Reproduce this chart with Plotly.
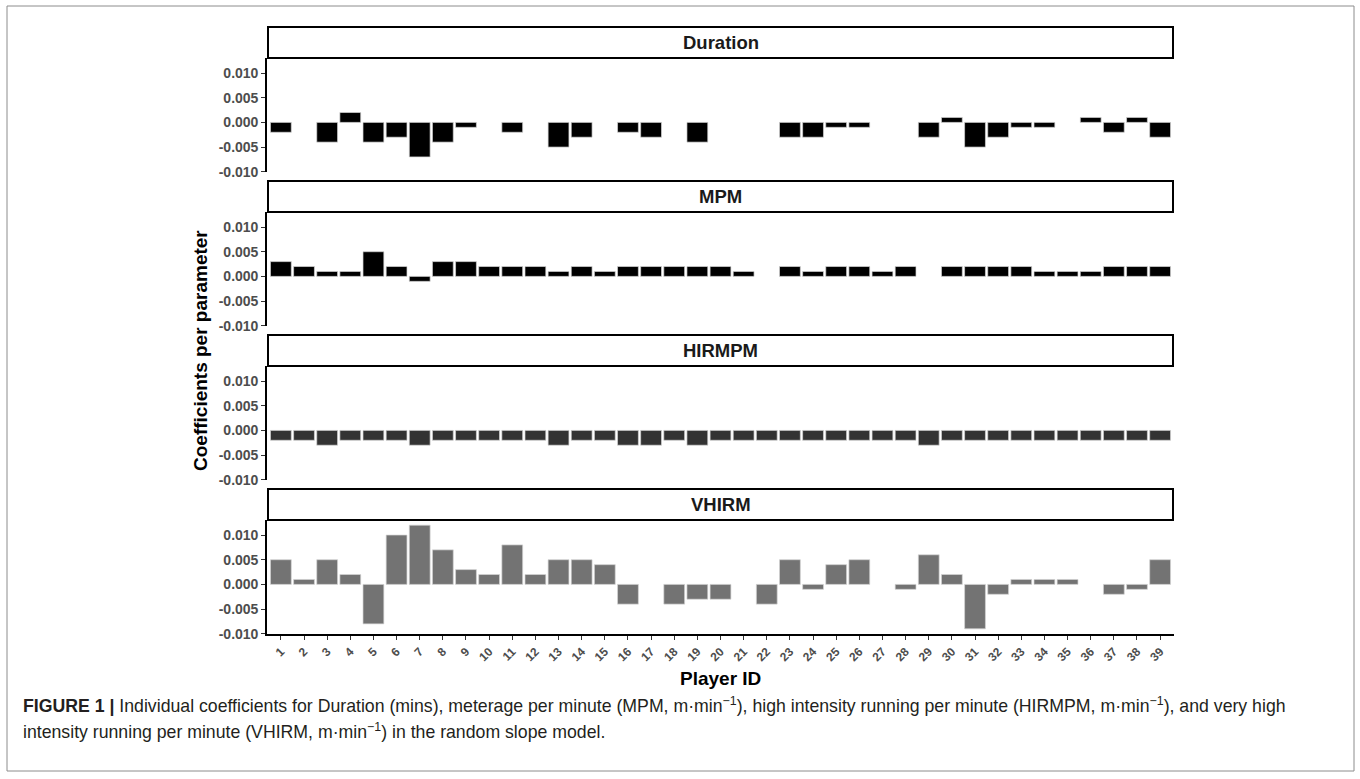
import plotly.graph_objects as go

# ---------------- data ----------------
player_ids = list(range(1, 40))
tick_labels = [str(i) for i in player_ids]
panel_names = ["Duration", "MPM", "HIRMPM", "VHIRM"]

duration = [-0.002, None, -0.004, 0.002, -0.004, -0.003, -0.007, -0.004, -0.001, None,
            -0.002, None, -0.005, -0.003, None, -0.002, -0.003, None, -0.004, None,
            None, None, -0.003, -0.003, -0.001, -0.001, None, None, -0.003, 0.001,
            -0.005, -0.003, -0.001, -0.001, None, 0.001, -0.002, 0.001, -0.003]

mpm = [0.003, 0.002, 0.001, 0.001, 0.005, 0.002, -0.001, 0.003, 0.003, 0.002,
       0.002, 0.002, 0.001, 0.002, 0.001, 0.002, 0.002, 0.002, 0.002, 0.002,
       0.001, None, 0.002, 0.001, 0.002, 0.002, 0.001, 0.002, None, 0.002,
       0.002, 0.002, 0.002, 0.001, 0.001, 0.001, 0.002, 0.002, 0.002]

hirmpm = [-0.002, -0.002, -0.003, -0.002, -0.002, -0.002, -0.003, -0.002, -0.002, -0.002,
          -0.002, -0.002, -0.003, -0.002, -0.002, -0.003, -0.003, -0.002, -0.003, -0.002,
          -0.002, -0.002, -0.002, -0.002, -0.002, -0.002, -0.002, -0.002, -0.003, -0.002,
          -0.002, -0.002, -0.002, -0.002, -0.002, -0.002, -0.002, -0.002, -0.002]

vhirm = [0.005, 0.001, 0.005, 0.002, -0.008, 0.010, 0.012, 0.007, 0.003, 0.002,
         0.008, 0.002, 0.005, 0.005, 0.004, -0.004, None, -0.004, -0.003, -0.003,
         None, -0.004, 0.005, -0.001, 0.004, 0.005, None, -0.001, 0.006, 0.002,
         -0.009, -0.002, 0.001, 0.001, 0.001, None, -0.002, -0.001, 0.005]

series = [duration, mpm, hirmpm, vhirm]
bar_colors = ["#000000", "#000000", "#333333", "#737373"]

y_tickvals = [-0.010, -0.005, 0.0, 0.005, 0.010]
y_ticktext = ["-0.010", "-0.005", "0.000", "0.005", "0.010"]

# ---------------- layout geometry (pixels) ----------------
W, H = 1360, 779
FONT = "Arial, 'Liberation Sans', Helvetica, sans-serif"
px_x = lambda p: p / W
px_y = lambda p: 1 - p / H

panel_left, panel_right = 267, 1174
panels_px = [(58, 172), (212, 326), (366, 480), (520, 634)]
strips_px = [(27, 58), (181, 212), (335, 366), (489, 520)]

fig = go.Figure()
layout = dict(
    width=W, height=H, autosize=False,
    margin=dict(l=0, r=0, t=0, b=0, pad=0, autoexpand=False),
    paper_bgcolor="white", plot_bgcolor="white",
    showlegend=False, bargap=0.1,
    font=dict(family=FONT),
)

for i, (vals, col) in enumerate(zip(series, bar_colors)):
    n = i + 1
    xa = "x" if n == 1 else f"x{n}"
    ya = "y" if n == 1 else f"y{n}"
    fig.add_trace(go.Bar(
        x=player_ids, y=vals, xaxis=xa, yaxis=ya, width=0.9,
        marker=dict(color=col, line=dict(color="#d4d4d4", width=0.7)),
        hoverinfo="x+y",
    ))
    top, bot = panels_px[i]
    last = (n == 4)
    layout["xaxis" if n == 1 else f"xaxis{n}"] = dict(
        domain=[px_x(panel_left), px_x(panel_right)],
        anchor=ya, range=[0.4, 39.6], automargin=False,
        tickmode="array", tickvals=player_ids, ticktext=tick_labels,
        showgrid=False, zeroline=False,
        showline=last, linecolor="black", linewidth=1.6,
        ticks="outside" if last else "", ticklen=4, tickcolor="#333333", tickwidth=1,
        showticklabels=last, tickangle=-45,
        tickfont=dict(family=FONT, size=12, color="#4d4d4d", weight="bold"),
    )
    layout["yaxis" if n == 1 else f"yaxis{n}"] = dict(
        domain=[px_y(bot), px_y(top)],
        anchor=xa, range=[-0.01005, 0.01305], automargin=False,
        tickmode="array", tickvals=y_tickvals, ticktext=y_ticktext,
        showgrid=False, zeroline=False,
        showline=True, linecolor="black", linewidth=1.6,
        ticks="outside", ticklen=4, tickcolor="#333333", tickwidth=1,
        tickfont=dict(family=FONT, size=14, color="#4d4d4d", weight="bold"),
    )

shapes = []
annotations = []
# outer frame
shapes.append(dict(type="rect", xref="paper", yref="paper",
                   x0=px_x(7), x1=px_x(1354), y0=px_y(771), y1=px_y(6),
                   line=dict(color="#8c8c8c", width=1), fillcolor="rgba(0,0,0,0)", layer="below"))
# facet strips
for name, (st, sb) in zip(panel_names, strips_px):
    shapes.append(dict(type="rect", xref="paper", yref="paper",
                       x0=px_x(panel_left + 1), x1=px_x(panel_right - 1),
                       y0=px_y(sb), y1=px_y(st),
                       line=dict(color="black", width=2), fillcolor="white"))
    annotations.append(dict(xref="paper", yref="paper",
                            x=px_x((panel_left + panel_right) / 2), y=px_y((st + sb) / 2),
                            text=f"<b>{name}</b>", showarrow=False,
                            xanchor="center", yanchor="middle",
                            font=dict(family=FONT, size=18.5, color="#1a1a1a")))

# axis titles
annotations.append(dict(xref="paper", yref="paper", x=px_x(720), y=px_y(678),
                        text="<b>Player ID</b>", showarrow=False,
                        xanchor="center", yanchor="middle",
                        font=dict(family=FONT, size=19, color="black")))
annotations.append(dict(xref="paper", yref="paper", x=px_x(200), y=px_y(351),
                        text="<b>Coefficients per parameter</b>", showarrow=False,
                        textangle=-90, xanchor="center", yanchor="middle",
                        font=dict(family=FONT, size=19, color="black")))

# caption
cap1 = ("<b>FIGURE 1 |</b> Individual coefficients for Duration (mins), meterage per minute "
        "(MPM, m·min<sup>−1</sup>), high intensity running per minute (HIRMPM, m·min<sup>−1</sup>), "
        "and very high")
cap2 = ("intensity running per minute (VHIRM, m·min<sup>−1</sup>) in the random slope model.")
annotations.append(dict(xref="paper", yref="paper", x=px_x(21), y=px_y(705),
                        text=cap1, showarrow=False, xanchor="left", yanchor="middle",
                        font=dict(family=FONT, size=17.7, color="#231f20")))
annotations.append(dict(xref="paper", yref="paper", x=px_x(21), y=px_y(731),
                        text=cap2, showarrow=False, xanchor="left", yanchor="middle",
                        font=dict(family=FONT, size=17.7, color="#231f20")))

layout["shapes"] = shapes
layout["annotations"] = annotations
fig.update_layout(**layout)
fig.write_html(
    "out.html",
    config={"displayModeBar": False, "responsive": False},
    post_script=("document.documentElement.style.margin='0px';"
                 "document.body.style.margin='0px';"
                 "document.documentElement.style.overflow='hidden';"
                 "document.body.style.overflow='hidden';"),
)
